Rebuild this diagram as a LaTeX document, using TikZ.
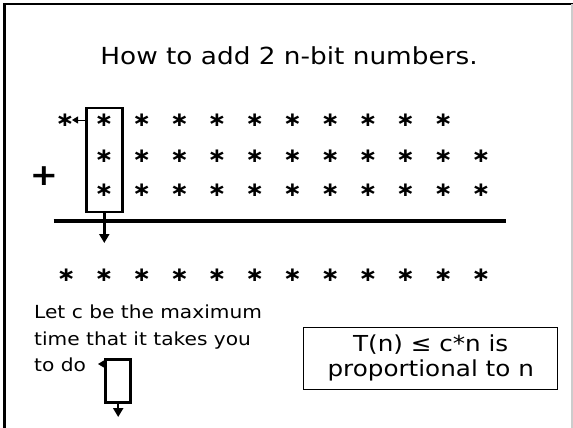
\documentclass[tikz,border=0pt]{standalone}
\usepackage{fontspec}
\setmainfont[FakeStretch=1.12]{DejaVu Sans}
\usetikzlibrary{positioning,arrows.meta}

\begin{document}
\begin{tikzpicture}[x=1pt,y=-1pt,>={Triangle[length=8pt,width=8pt]},
  digit/.style={inner sep=0pt,font=\fontsize{20}{20}\selectfont\bfseries},
  colbox/.style={draw,line width=2.6pt,inner sep=0pt},
  thin tip/.style={-{Triangle[length=6pt,width=7pt]},line width=1pt},
  thick tip/.style={-{Triangle[length=9pt,width=10pt]},line width=2.6pt}]
\useasboundingbox (0,0) rectangle (573,428);
\draw[line width=2.4pt] (4.5,428) -- (4.5,4.3) -- (573,4.3);
\draw[black!20,line width=1.2pt] (572,4.3) -- (572,428);
\node[anchor=base,font=\fontsize{23.5}{23.5}\selectfont] (title) at (289,65) {How to add 2 n-bit numbers.};
\node[digit] (a-0) at (65,120) {∗};
\foreach \i in {1,...,10} \node[digit] (a-\i) at ({104+37.7*(\i-1)},120) {∗};
\foreach \i in {1,...,11} {
  \node[digit] (b-\i) at ({104+37.7*(\i-1)},156) {∗};
  \node[digit] (c-\i) at ({104+37.7*(\i-1)},190) {∗};
}
\foreach \i in {0,...,11} \node[digit] (s-\i) at ({104+37.7*(\i-1)},275) {∗};
\node[font=\fontsize{30}{30}\selectfont\bfseries,inner sep=0pt] (plus) at (44,176) {+};
\node[colbox,minimum width=36pt,minimum height=104pt] (col) at (104.3,160) {};
\coordinate (carrytip) at (72,120);
\draw[thin tip] (col.west |- a-0) -- (carrytip);
\draw[line width=4pt] (53.7,221) -- (506,221);
\coordinate (sumtip) at (104.3,243);
\draw[thick tip] (col.south) -- (sumtip);
\node[anchor=north west,inner sep=0pt,align=left,font=\fontsize{18}{26.5}\selectfont] (note) at (34,305)
  {Let c be the maximum\\time that it takes you\\to do};
\node[colbox,line width=3pt,minimum width=25pt,minimum height=43pt] (unit) at (118.2,381.3) {};
\coordinate (dotip) at (98,364);
\draw[thin tip] (unit.west |- dotip) -- (dotip);
\coordinate (unitout) at (118.2,417);
\draw[thick tip,line width=2.2pt] (unit.south) -- (unitout);
\node[draw,line width=0.8pt,minimum width=254pt,minimum height=62pt,align=center,
  font=\fontsize{22}{25}\selectfont] (bound) at (430.7,358) {T(n) ≤ c*n is\\proportional to n};
\end{tikzpicture}
\end{document}
